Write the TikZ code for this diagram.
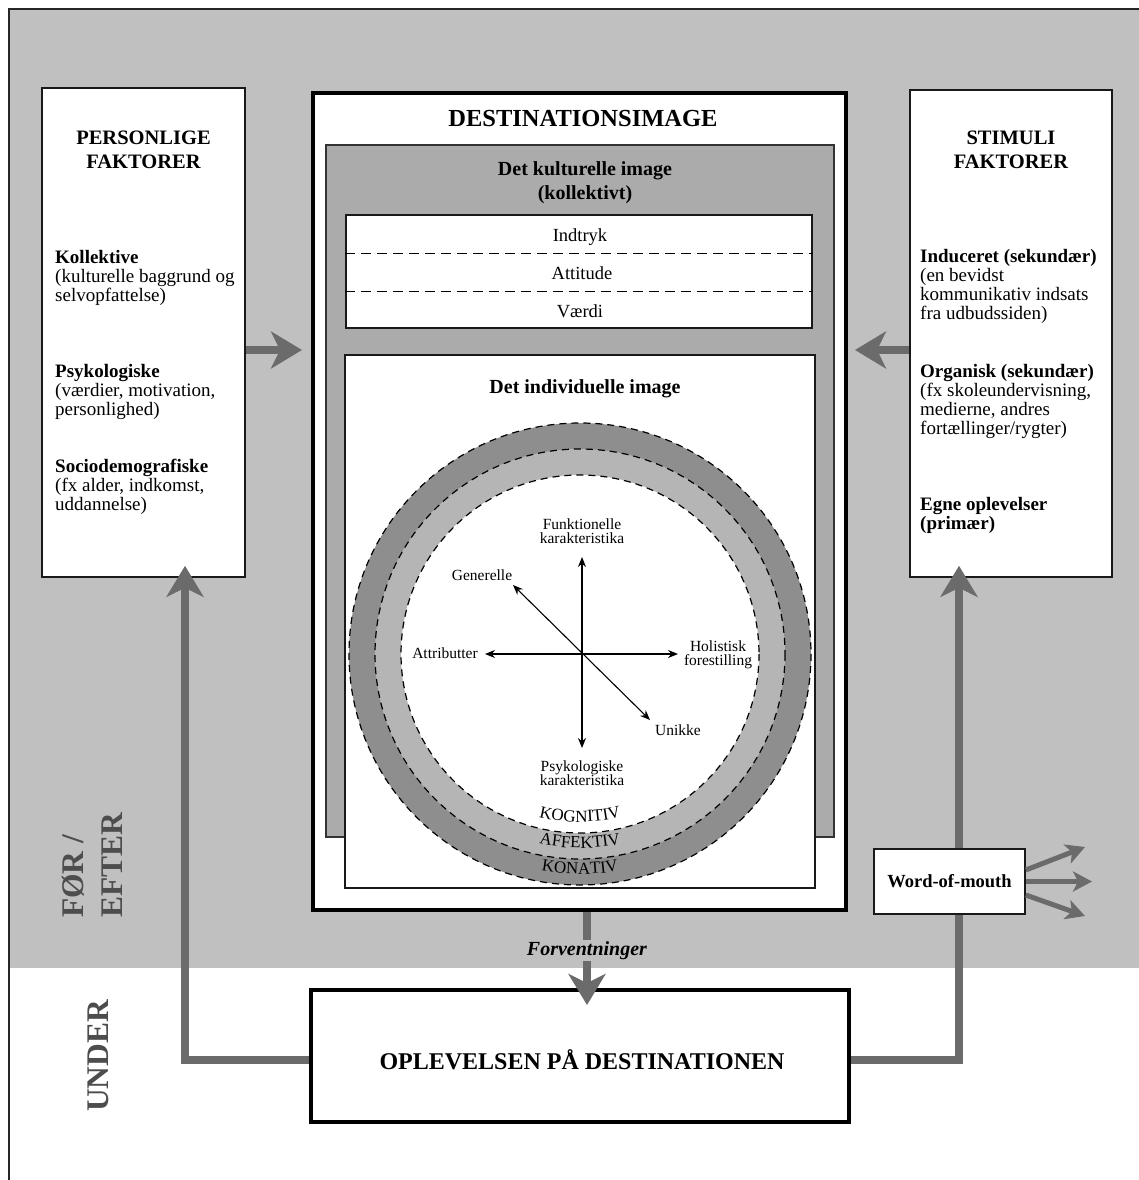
\documentclass[tikz,border=0pt]{standalone}
\usepackage{fontspec}
\setmainfont{Liberation Serif}
\usetikzlibrary{arrows.meta,decorations.text,calc}
\definecolor{bggrey}{HTML}{C0C0C0}
\definecolor{arrgrey}{HTML}{6B6B6B}
\definecolor{kulgrey}{HTML}{ABABAB}
\definecolor{ringdark}{HTML}{8E8E8E}
\definecolor{ringlight}{HTML}{B5B5B5}
\definecolor{sidetext}{HTML}{4D4D4D}
\newcommand{\fsz}[2]{\fontsize{#1pt}{#2pt}\selectfont}
\begin{document}
\begin{tikzpicture}[x=1pt,y=-1pt,
  box/.style={draw=black!90, line width=1.6pt, fill=white, inner sep=0pt},
  thickbox/.style={draw=black, line width=4pt, fill=white, inner sep=0pt},
  kulbox/.style={draw=black!80, line width=1.3pt, fill=kulgrey, inner sep=0pt},
  titletxt/.style={font=\fsz{20.5}{24.5}\bfseries, align=center, anchor=base, inner sep=0pt},
  bodytxt/.style={font=\fsz{19}{19.3}, align=left, anchor=base west, inner sep=0pt},
  midtxt/.style={font=\fsz{18.5}{18.5}, anchor=base, inner sep=0pt},
  subtitle/.style={font=\fsz{20}{24}\bfseries, align=center, anchor=base, inner sep=0pt},
  axlab/.style={font=\fsz{15.5}{14.5}, align=center, anchor=base, inner sep=0pt},
  sidetxt/.style={font=\fsz{31.5}{39}\bfseries, text=sidetext, align=left, anchor=base west, rotate=90, inner sep=0pt},
  axarrow/.style={line width=1.1pt, {Stealth[length=10pt,width=8pt]}-{Stealth[length=10pt,width=8pt]}},
  bigarrow/.style={draw=arrgrey, line width=8pt, -{Stealth[length=31pt,width=37pt,inset=9pt]}},
  smallarrow/.style={draw=arrgrey, line width=5pt, -{Stealth[length=19pt,width=20pt,inset=5pt]}},
  dashcirc/.style={draw=black, line width=1.2pt, dash pattern=on 7pt off 5pt},
]
\useasboundingbox (0,0) rectangle (1139,1180);
% background
\fill[bggrey] (9,9) rectangle (1139,968);
\draw[line width=1.5pt, black!85] (9,1180) -- (9,9) -- (1139,9);

% side texts
\node[sidetxt] (foer) at (122,918) {FØR /\\EFTER};
\node[sidetxt] (under) at (108,1112) {UNDER};

% left and right boxes
\node[box, minimum width=203pt, minimum height=489pt] (pers) at (143.5,332.5) {};
\node[box, minimum width=202pt, minimum height=487pt] (stim) at (1011,333.5) {};
\node[titletxt] (perstitle) at (143.5,168.5) {PERSONLIGE\\FAKTORER};
\node[titletxt] (stimtitle) at (1011,168.5) {STIMULI\\FAKTORER};
\node[bodytxt] (kol) at (55,301.6) {\textbf{Kollektive}\\(kulturelle baggrund og\\selvopfattelse)};
\node[bodytxt] (psy) at (55,415.6) {\textbf{Psykologiske}\\(værdier, motivation,\\personlighed)};
\node[bodytxt] (soc) at (55,510.6) {\textbf{Sociodemografiske}\\(fx alder, indkomst,\\uddannelse)};
\node[bodytxt] (ind) at (920,319.9) {\textbf{Induceret (sekundær)}\\(en bevidst\\kommunikativ indsats\\fra udbudssiden)};
\node[bodytxt] (org) at (920,434.9) {\textbf{Organisk (sekundær)}\\(fx skoleundervisning,\\medierne, andres\\fortællinger/rygter)};
\node[bodytxt] (egn) at (920,529.3) {\textbf{Egne oplevelser}\\\textbf{(primær)}};

% destination image
\node[thickbox, minimum width=533pt, minimum height=817pt] (dest) at (579.5,501.5) {};
\node[font=\fsz{24.5}{24.5}\bfseries, anchor=base, inner sep=0pt] (desttitle) at (583,127) {DESTINATIONSIMAGE};
\node[kulbox, minimum width=508pt, minimum height=692pt] (kult) at (580,491) {};
\node[subtitle] (kulttitle) at (585,199) {Det kulturelle image\\(kollektivt)};
\node[box, line width=1.2pt, minimum width=466pt, minimum height=113pt] (layers) at (579,271.5) {};
\draw[line width=1pt, dash pattern=on 10pt off 6pt] (layers.west |- 0,253) -- (layers.east |- 0,253);
\draw[line width=1pt, dash pattern=on 10pt off 6pt] (layers.west |- 0,291) -- (layers.east |- 0,291);
\node[midtxt] (indtryk) at (580,241) {Indtryk};
\node[midtxt] (attitude) at (582,279) {Attitude};
\node[midtxt] (vaerdi) at (580,317) {Værdi};

\node[box, line width=1.2pt, minimum width=470pt, minimum height=533pt] (indiv) at (580,621.5) {};
\node[subtitle] (indivtitle) at (585,393) {Det individuelle image};

% rings
\coordinate (cc) at (580,654);
\fill[ringdark] (cc) circle[radius=231];
\fill[ringlight] (cc) circle[radius=205];
\fill[white] (cc) circle[radius=179];
\draw[dashcirc] (cc) circle[radius=231];
\draw[dashcirc] (cc) circle[radius=205];
\draw[dashcirc] (cc) circle[radius=179];
\path[decorate, decoration={text along path, text align=center, text={|\fsz{17}{17}|KOGNITIV}}]
  (cc) ++(150:168) arc[start angle=150, end angle=30, radius=168];
\path[decorate, decoration={text along path, text align=center, text={|\fsz{17}{17}|AFFEKTIV}}]
  (cc) ++(150:194) arc[start angle=150, end angle=30, radius=194];
\path[decorate, decoration={text along path, text align=center, text={|\fsz{17}{17}|KONATIV}}]
  (cc) ++(150:220) arc[start angle=150, end angle=30, radius=220];

% axes
\coordinate (axN) at (582,557);
\coordinate (axS) at (582,748);
\coordinate (axW) at (485,654);
\coordinate (axE) at (678,654);
\coordinate (axNW) at (513,585);
\coordinate (axSE) at (650,720);
\draw[axarrow] (axN) -- (axS);
\draw[axarrow] (axW) -- (axE);
\draw[axarrow] (axNW) -- (axSE);
\node[axlab] (funk) at (582,543.5) {Funktionelle\\karakteristika};
\node[axlab] (gen) at (482,580) {Generelle};
\node[axlab] (attr) at (445,658) {Attributter};
\node[axlab] (hol) at (718,665.5) {Holistisk\\forestilling};
\node[axlab] (uni) at (678,735) {Unikke};
\node[axlab] (psyk) at (582,785.5) {Psykologiske\\karakteristika};

% experience box
\node[thickbox, minimum width=538pt, minimum height=132pt] (oplev) at (580,1056) {};
\node[font=\fsz{24}{24}\bfseries, anchor=base, inner sep=0pt] (opltxt) at (582,1069) {OPLEVELSEN PÅ DESTINATIONEN};

% grey arrows
\coordinate (pin) at (302,350);
\coordinate (sin) at (855,350);
\draw[bigarrow] (pers.east |- pin) -- (pin);
\draw[bigarrow] (stim.west |- sin) -- (sin);
\coordinate (lcorner) at (185,1060);
\coordinate (rcorner) at (959,1060);
\draw[bigarrow] (oplev.west |- lcorner) -- (lcorner) -- ($(lcorner |- pers.south)+(0,-12)$);
\draw[bigarrow] (oplev.east |- rcorner) -- (rcorner) -- ($(rcorner |- stim.south)+(0,-12)$);
\coordinate (fv) at (587,0);
\draw[bigarrow] (dest.south -| fv) -- ($(oplev.north -| fv)+(0,17)$);
\node[font=\fsz{20}{20}\bfseries\itshape, fill=bggrey, inner sep=1.5pt, anchor=base] (forv) at (587,955) {Forventninger};

% word of mouth
\node[box, minimum width=151pt, minimum height=65pt, font=\fsz{18.5}{18.5}\bfseries] (wom) at (949.5,881.5) {Word-of-mouth};
\coordinate (w1) at (1085,847);
\coordinate (w2) at (1092,881.5);
\coordinate (w3) at (1085,916);
\draw[smallarrow] ([yshift=11.5pt]wom.east) -- (w1);
\draw[smallarrow] (wom.east) -- (w2);
\draw[smallarrow] ([yshift=-13.5pt]wom.east) -- (w3);
\end{tikzpicture}
\end{document}
